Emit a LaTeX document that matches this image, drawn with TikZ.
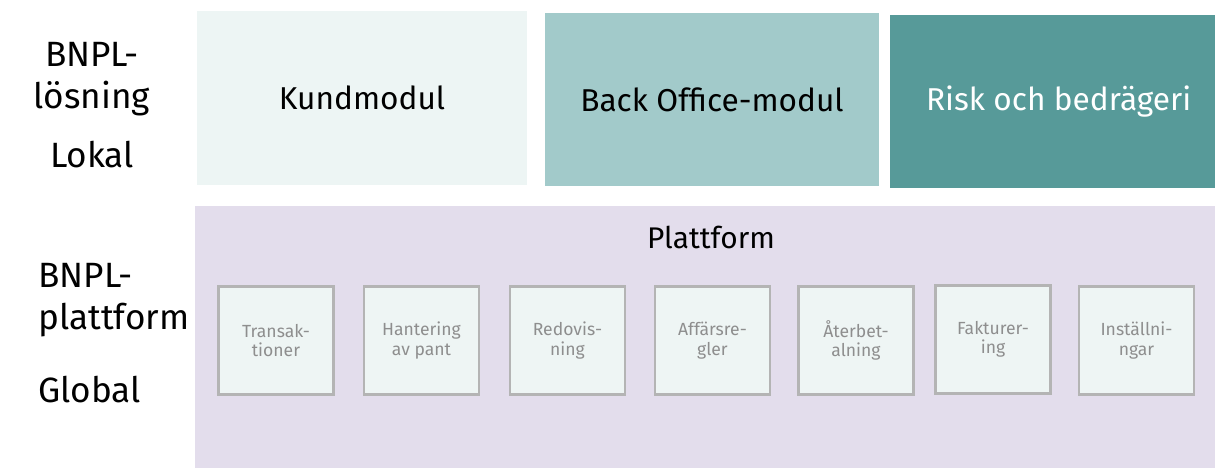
\documentclass[tikz,border=0pt]{standalone}
\usepackage{fontspec}
\setmainfont{Fira Sans}
\usetikzlibrary{positioning}

\definecolor{kundfill}{HTML}{EDF5F4}
\definecolor{backfill}{HTML}{A2CACA}
\definecolor{riskfill}{HTML}{579A99}
\definecolor{platfill}{HTML}{E3DDEC}
\definecolor{funcfill}{HTML}{EEF5F4}
\definecolor{funcline}{HTML}{B4B4B4}
\definecolor{functext}{HTML}{8E8E8E}

\begin{document}
\begin{tikzpicture}[
    x=0.02cm, y=-0.02cm,
    modbox/.style={rectangle, inner sep=0pt, font=\fontsize{18}{22}\selectfont},
    funcbox/.style={rectangle, draw=funcline, line width=1.2pt, fill=funcfill,
      minimum width=2.3cm, minimum height=2.16cm, align=center, text=functext,
      font=\fontsize{10}{11}\selectfont},
    sidelabel/.style={align=center, inner sep=0pt, font=\fontsize{20}{23.5}\selectfont}
  ]
  \useasboundingbox (0,0) rectangle (1215,468);

  % local modules
  \node[modbox, fill=kundfill, minimum width=6.6cm, minimum height=3.48cm] (kund) at (362,98) {Kundmodul};
  \node[modbox, fill=backfill, minimum width=6.68cm, minimum height=3.46cm] (back) at (712,99.5) {Back Office-modul};
  \node[modbox, fill=riskfill, text=white, minimum width=6.5cm, minimum height=3.46cm] (risk) at (1052.5,101.5) {\hspace*{7pt}Risk och bedrägeri};

  % platform
  \node[rectangle, fill=platfill, inner sep=0pt, minimum width=20.4cm, minimum height=5.24cm] (plat) at (705,337) {};
  \node[font=\fontsize{17}{20}\selectfont, anchor=base] (plattitle) at (711,248) {Plattform};

  \node[funcbox] (trans) at (276,340.5) {Transak-\\tioner};
  \node[funcbox] (pant)  at (421.5,340.5) {Hantering\\av pant};
  \node[funcbox] (redov) at (567.5,340.5) {Redovis-\\ning};
  \node[funcbox] (regler) at (712.5,340.5) {Affärsre-\\gler};
  \node[funcbox] (aterb) at (856,340.5) {Återbet-\\alning};
  \node[funcbox] (faktur) at (993,339.5) {Fakturer-\\ing};
  \node[funcbox] (install) at (1136.5,340.5) {Inställni-\\ngar};

  % side labels
  \node[sidelabel] (losning) at (92,79) {BNPL-\\lösning};
  \node[sidelabel, anchor=base] (lokal) at (92,167) {Lokal};
  \node[sidelabel, align=left, anchor=west] (plattform) at (38,300) {BNPL-\\plattform};
  \node[sidelabel, anchor=base west] (global) at (38,402) {Global};
\end{tikzpicture}
\end{document}
